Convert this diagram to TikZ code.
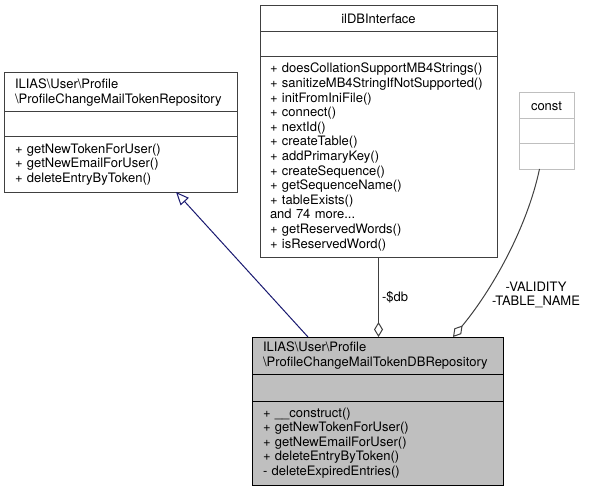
\documentclass[tikz,border=0pt]{standalone}
\usepackage{fontspec}
\setmainfont{TeX Gyre Heros}
\usepackage{tikz}
\usetikzlibrary{positioning,calc,arrows.meta}
\definecolor{edgegrey}{HTML}{404040}
\definecolor{litegrey}{HTML}{BFBFBF}
\definecolor{inhblue}{HTML}{191970}
\newcommand{\bs}{\textbackslash}

\begin{document}
\begin{tikzpicture}[x=1pt, y=-1pt,
classpart/.style={draw=edgegrey, line width=1pt, rectangle, outer sep=0pt, inner xsep=11pt, inner ysep=0pt, align=left, font=\fontsize{13}{14.6}\selectfont},
inherit/.style={draw=inhblue, line width=1pt, {Triangle[open,length=13pt,width=11pt]}-},
aggr/.style={draw=edgegrey, line width=1pt, -{Diamond[open,length=15pt,width=9pt]}},
every node/.style={font=\fontsize{13}{14.6}\selectfont}]
\useasboundingbox (0,0) rectangle (589,492);

% base class
\node(repotitle) [classpart, text width=211pt, minimum height=39pt, anchor=north west] at (4,73) {ILIAS\bs User\bs Profile\\\bs ProfileChangeMailTokenRepository};
\node(repoattr) [classpart, text width=211pt, minimum height=25pt, below=0pt of repotitle] {};
\node(repometh) [classpart, text width=211pt, minimum height=55pt, below=0pt of repoattr] {+ getNewTokenForUser()\\+ getNewEmailForUser()\\+ deleteEntryByToken()};

% interface
\node(dbiftitle) [classpart, inner xsep=10pt, text width=217pt, minimum height=26pt, align=center, anchor=north west] at (260,6) {ilDBInterface};
\node(dbifattr) [classpart, inner xsep=10pt, text width=217pt, minimum height=25pt, below=0pt of dbiftitle] {};
\node(dbifmeth) [classpart, inner xsep=10pt, text width=217pt, minimum height=200pt, below=0pt of dbifattr] {+ doesCollationSupportMB4Strings()\\+ sanitizeMB4StringIfNotSupported()\\+ initFromIniFile()\\+ connect()\\+ nextId()\\+ createTable()\\+ addPrimaryKey()\\+ createSequence()\\+ getSequenceName()\\+ tableExists()\\and 74 more...\\+ getReservedWords()\\+ isReservedWord()};

% const
\node(consttitle) [classpart, draw=litegrey, text width=33pt, minimum height=26pt, align=center, anchor=north west] at (519,93) {const};
\node(constattr) [classpart, draw=litegrey, text width=33pt, minimum height=25pt, below=0pt of consttitle] {};
\node(constmeth) [classpart, draw=litegrey, text width=33pt, minimum height=25pt, below=0pt of constattr] {};

% the class itself
\node(dbtitle) [classpart, draw=black, fill=litegrey, text width=229pt, minimum height=37pt, anchor=north west] at (252,337) {ILIAS\bs User\bs Profile\\\bs ProfileChangeMailTokenDBRepository};
\node(dbattr) [classpart, draw=black, fill=litegrey, text width=229pt, minimum height=27pt, below=0pt of dbtitle] {};
\node(dbmeth) [classpart, draw=black, fill=litegrey, text width=229pt, minimum height=84pt, below=0pt of dbattr] {+ \_\_construct()\\+ getNewTokenForUser()\\+ getNewEmailForUser()\\+ deleteEntryByToken()\\- deleteExpiredEntries()};

\coordinate(inhfrom) at ($(dbtitle.north west)+(56,0)$);
\coordinate(inhto) at ($(repometh.south west)+(172,0)$);
\coordinate(constout) at ($(constmeth.south)+(-7,0)$);
\coordinate(constin) at ($(dbtitle.north west)+(201,0)$);

\draw[inherit] (inhto) -- (inhfrom);
\draw[aggr] (dbifmeth.south) -- (dbifmeth.south |- dbtitle.north) node[midway, right, inner sep=3pt] {-\$db};
\draw[aggr] (constout) .. controls (527,228) and (492,290) .. (constin);
\node(constlbl) [align=center, inner sep=0pt] at (536,295) {-VALIDITY\\-TABLE\_NAME};
\end{tikzpicture}
\end{document}
